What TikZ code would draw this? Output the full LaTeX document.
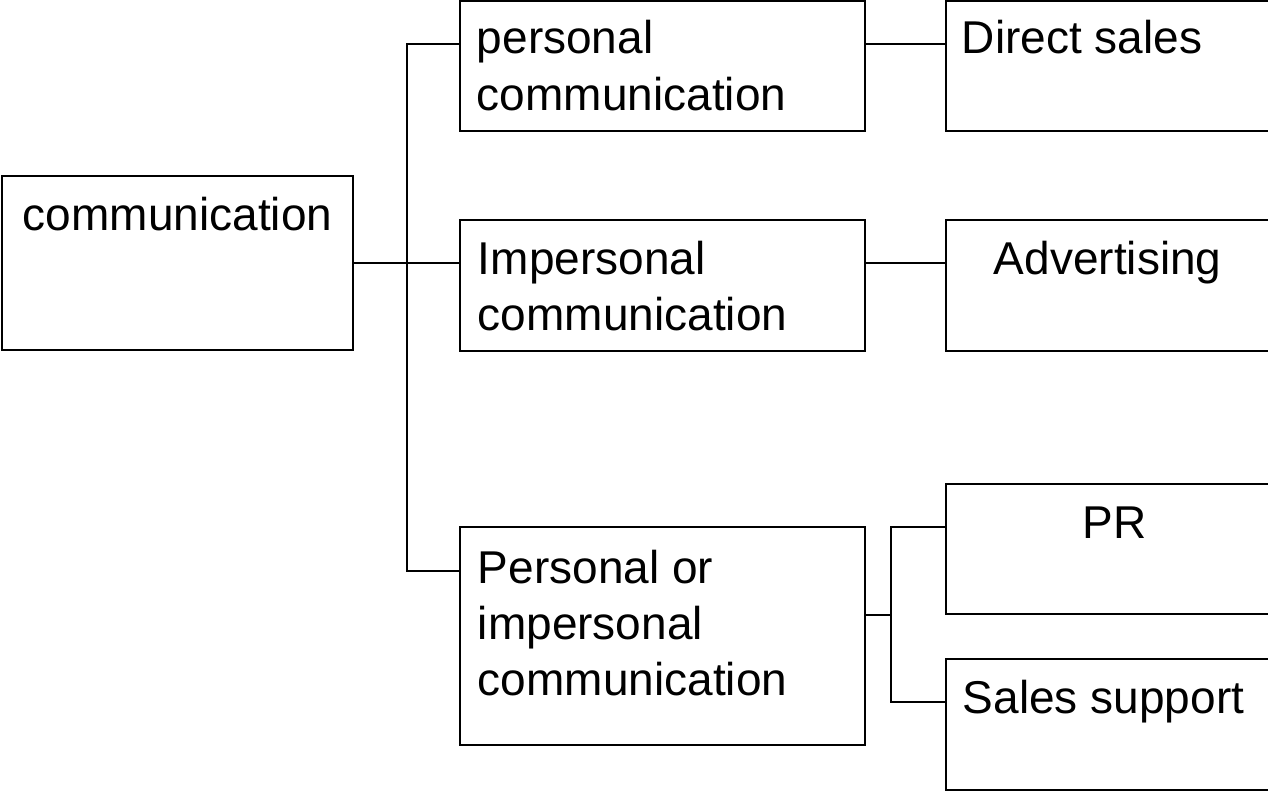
\documentclass[tikz,border=0pt]{standalone}
\usepackage{fontspec}
\setmainfont{Liberation Sans}
\usetikzlibrary{calc}
\begin{document}
\begin{tikzpicture}[x=1pt,y=-1pt,line width=1.8pt,
  box/.style={draw, rectangle, inner sep=0pt, outer sep=0pt, anchor=north west},
  lbl/.style={anchor=base west, inner sep=0pt, align=left, font=\fontsize{46}{56}\selectfont}]
\useasboundingbox (0,0) rectangle (1268,792);
\clip (0,0) rectangle (1268,792);
% boxes
\node[box, minimum width=351pt, minimum height=174pt] (comm) at (2,176) {};
\node[box, minimum width=405pt, minimum height=130pt] (pers) at (460,1) {};
\node[box, minimum width=405pt, minimum height=131pt] (imp) at (460,220) {};
\node[box, minimum width=405pt, minimum height=218pt] (poi) at (460,527) {};
\node[box, minimum width=360pt, minimum height=130pt] (dsales) at (946,1) {};
\node[box, minimum width=360pt, minimum height=131pt] (adv) at (946,220) {};
\node[box, minimum width=360pt, minimum height=130pt] (pr) at (946,484) {};
\node[box, minimum width=360pt, minimum height=131pt] (ss) at (946,659) {};
% texts (base anchor = baseline of the last line)
\node[lbl] (commT) at (22,230) {communication};
\node[lbl] (persT) at (476,110) {personal\\communication};
\node[lbl] (impT) at (477,330) {Impersonal\\communication};
\node[lbl] (poiT) at (477,695) {Personal or\\impersonal\\communication};
\node[lbl] (dsalesT) at (961,54) {Direct sales};
\node[lbl] (advT) at (993,274) {Advertising};
\node[lbl] (prT) at (1082,538) {PR};
\node[lbl] (ssT) at (962,713) {Sales support};
% connector points
\coordinate (persIn) at ($(pers.north west)+(0,43)$);
\coordinate (impIn) at ($(imp.north west)+(0,44)$);
\coordinate (poiIn) at ($(poi.north west)+(0,44)$);
\coordinate (trunk) at ($(impIn)+(-53,0)$);
\coordinate (poiOut) at ($(poi.north east)+(0,88)$);
\coordinate (prIn) at ($(pr.north west)+(0,43)$);
\coordinate (ssIn) at ($(ss.north west)+(0,43)$);
\coordinate (fork) at ($(poiOut)+(26,0)$);
% connectors
\draw (comm.east) -- (comm.east -| impIn);
\draw (persIn) -- (persIn -| trunk) |- (poiIn);
\draw (pers.east |- persIn) -- (dsales.west |- persIn);
\draw (imp.east |- comm.east) -- (adv.west |- comm.east);
\draw (poiOut) -- (fork);
\draw (prIn) -- (prIn -| fork) |- (ssIn);
\end{tikzpicture}
\end{document}
